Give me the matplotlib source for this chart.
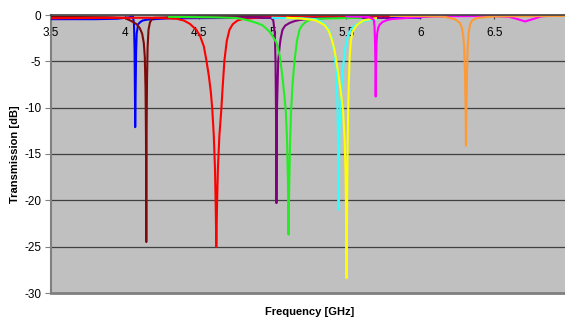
import matplotlib
matplotlib.use("Agg")
import matplotlib.pyplot as plt

plt.rcParams['font.family'] = ['Liberation Sans', 'DejaVu Sans']

# ---- data (frequency in GHz, transmission in dB) ----
blue_f = [3.5, 3.8, 3.95, 4.03, 4.055, 4.062, 4.066, 4.068, 4.070, 4.073, 4.076, 4.08, 4.09, 4.105, 4.12, 4.15, 4.3, 5.0, 6.0]
blue_db = [-0.45, -0.45, -0.4, -0.25, -0.15, -1.0, -4.0, -8.0, -12.1, -8.0, -4.0, -2.0, -1.0, -0.75, -0.6, -0.5, -0.35, -0.3, -0.3]

maroon_f = [3.5, 3.9, 4.0, 4.05, 4.08, 4.1, 4.117, 4.128, 4.135, 4.14, 4.143, 4.145, 4.147, 4.15,
            4.154, 4.16, 4.17, 4.185, 4.2, 4.5, 6.0]
maroon_db = [-0.2, -0.25, -0.32, -0.7, -1.0, -1.4, -2.0, -3.0, -4.5, -8.0, -13.0, -24.5, -13.0, -7.0,
             -3.5, -1.6, -0.8, -0.4, -0.3, -0.15, -0.1]

red_f = [3.5, 4.0, 4.2, 4.35, 4.40, 4.44, 4.484, 4.51, 4.535, 4.552, 4.568, 4.582, 4.592, 4.602,
         4.61, 4.615, 4.619, 4.624, 4.63, 4.64, 4.653, 4.662, 4.674, 4.69, 4.708, 4.73, 4.762,
         4.8, 4.85, 5.0, 6.0]
red_db = [-0.35, -0.3, -0.3, -0.4, -0.6, -0.95, -1.6, -2.3, -3.4, -4.9, -6.5, -8.3, -10.2, -13.0,
          -16.5, -20.5, -25.0, -20.5, -16.5, -13.0, -10.2, -7.8, -4.9, -2.8, -1.6, -1.0, -0.6,
          -0.42, -0.35, -0.2, -0.1]

purple_f = [4.4, 4.9, 4.99, 5.005, 5.015, 5.02, 5.023, 5.026, 5.03, 5.038, 5.047, 5.054, 5.067,
            5.085, 5.115, 5.15, 5.182, 5.237, 5.4, 5.8]
purple_db = [-0.3, -0.25, -0.3, -0.6, -2.0, -5.0, -10.0, -20.3, -10.0, -5.0, -3.5, -2.6, -1.6,
             -1.15, -0.86, -0.65, -0.54, -0.43, -0.3, -0.3]

green_f = [4.3, 4.6, 4.755, 4.8, 4.85, 4.9, 4.931, 4.96, 4.99, 5.027, 5.05, 5.067, 5.08, 5.09,
           5.098, 5.104, 5.108, 5.112, 5.118, 5.125, 5.135, 5.149, 5.165, 5.182, 5.2, 5.225,
           5.25, 5.3, 5.6]
green_db = [-0.2, -0.25, -0.32, -0.45, -0.65, -0.9, -1.1, -1.5, -2.0, -3.0, -4.5, -6.7, -8.7,
            -10.5, -13.5, -18.0, -23.7, -19.0, -14.0, -10.5, -7.5, -4.9, -2.8, -1.6, -1.1, -0.75,
            -0.54, -0.4, -0.3]

cyan_f = [5.0, 5.2, 5.284, 5.32, 5.35, 5.378, 5.395, 5.41, 5.422, 5.431, 5.437, 5.442, 5.447, 5.452,
          5.46, 5.468, 5.48, 5.49, 5.501, 5.522, 5.545, 5.569, 5.623, 5.7]
cyan_db = [-0.3, -0.35, -0.43, -0.65, -0.95, -1.5, -2.2, -3.2, -4.6, -6.2, -8.3, -12.0, -21.0, -13.0,
           -9.5, -7.5, -5.2, -3.8, -2.8, -1.8, -1.3, -1.0, -0.65, -0.45]

yellow_f = [5.1, 5.2, 5.284, 5.32, 5.352, 5.38, 5.4, 5.418, 5.433, 5.448, 5.462, 5.478, 5.488,
            5.494, 5.498, 5.501, 5.504, 5.508, 5.512, 5.516, 5.522, 5.53, 5.542, 5.56, 5.576,
            5.6, 5.623, 5.7]
yellow_db = [-0.3, -0.4, -0.54, -0.8, -1.1, -1.7, -2.6, -3.7, -5.1, -6.7, -8.3, -10.5, -13.5,
             -17.0, -22.0, -28.4, -22.0, -14.0, -10.0, -7.5, -4.5, -2.8, -1.8, -1.3, -1.0,
             -0.75, -0.54, -0.35]

magenta_f = [5.5, 5.65, 5.685, 5.69, 5.693, 5.696, 5.698, 5.701, 5.704, 5.708, 5.715, 5.725,
             5.745, 5.775, 5.81, 5.93, 6.1, 6.3, 6.5, 6.6, 6.65, 6.71, 6.77, 6.82, 6.9, 7.0]
magenta_db = [-0.15, -0.2, -0.5, -1.2, -2.5, -5.0, -8.8, -5.0, -3.0, -2.0, -1.4, -1.05,
              -0.75, -0.55, -0.43, -0.3, -0.15, -0.12, -0.12, -0.2, -0.4, -0.7, -0.4, -0.15,
              -0.05, -0.1]

orange_f = [5.8, 6.15, 6.2, 6.24, 6.268, 6.28, 6.29, 6.297, 6.303, 6.307, 6.309, 6.312, 6.316,
            6.321, 6.327, 6.336, 6.35, 6.383, 6.5, 7.0]
orange_db = [-0.1, -0.15, -0.32, -0.5, -0.86, -1.3, -2.1, -3.5, -6.5, -10.5, -14.1, -10.5, -6.5,
             -3.5, -2.0, -1.1, -0.6, -0.32, -0.15, -0.1]

x_ticks = [3.5, 4.0, 4.5, 5.0, 5.5, 6.0, 6.5]
x_tick_labels = ['3.5', '4', '4.5', '5', '5.5', '6', '6.5']
y_ticks = [0, -5, -10, -15, -20, -25, -30]

series = [
    (blue_f, blue_db, '#0000ff'),
    (maroon_f, maroon_db, '#7f0a0a'),
    (red_f, red_db, '#ff0000'),
    (purple_f, purple_db, '#800080'),
    (green_f, green_db, '#22ee22'),
    (cyan_f, cyan_db, '#33ffff'),
    (yellow_f, yellow_db, '#ffff00'),
    (magenta_f, magenta_db, '#ff00ff'),
    (orange_f, orange_db, '#ff9933'),
]

fig = plt.figure(figsize=(5.65, 3.21), dpi=100)
# plot area runs slightly past the right edge of the picture (cropped at 7 GHz side)
ax = fig.add_axes([51 / 565, 1 - 293 / 321, (568 - 51) / 565, (293 - 15) / 321])
ax.set_facecolor('#c0c0c0')

for yv in y_ticks[1:-1]:
    ax.axhline(yv, color='#404040', lw=0.9, zorder=1)

for f, d, c in series:
    ax.plot(f, d, color=c, lw=1.5, zorder=3, solid_joinstyle='round')

ax.set_xlim(3.5, 7.0)
ax.set_ylim(-30, 0)

ax.set_xticks(x_ticks)
ax.set_xticklabels(x_tick_labels)
ax.set_yticks(y_ticks)
ax.set_yticklabels([str(v) for v in y_ticks])

ax.tick_params(axis='x', top=True, bottom=False, labeltop=True, labelbottom=False,
               direction='in', length=3, pad=-17, labelsize=8.5, color='#404040')
ax.tick_params(axis='y', direction='out', length=4, labelsize=8.5, color='#808080', pad=3)

ax.spines['top'].set_color('#404040')
ax.spines['top'].set_linewidth(1.2)
ax.spines['top'].set_zorder(4)
ax.spines['left'].set_color('#808080')
ax.spines['left'].set_linewidth(1.5)
ax.spines['bottom'].set_color('#808080')
ax.spines['bottom'].set_linewidth(2.0)
ax.spines['right'].set_visible(False)

ax.set_xlabel('Frequency [GHz]', fontsize=8, fontweight='bold', labelpad=10)
ax.xaxis.set_label_position('bottom')
ax.set_ylabel('Transmission [dB]', fontsize=8, fontweight='bold', labelpad=3)

fig.savefig('out.png', dpi=100)
